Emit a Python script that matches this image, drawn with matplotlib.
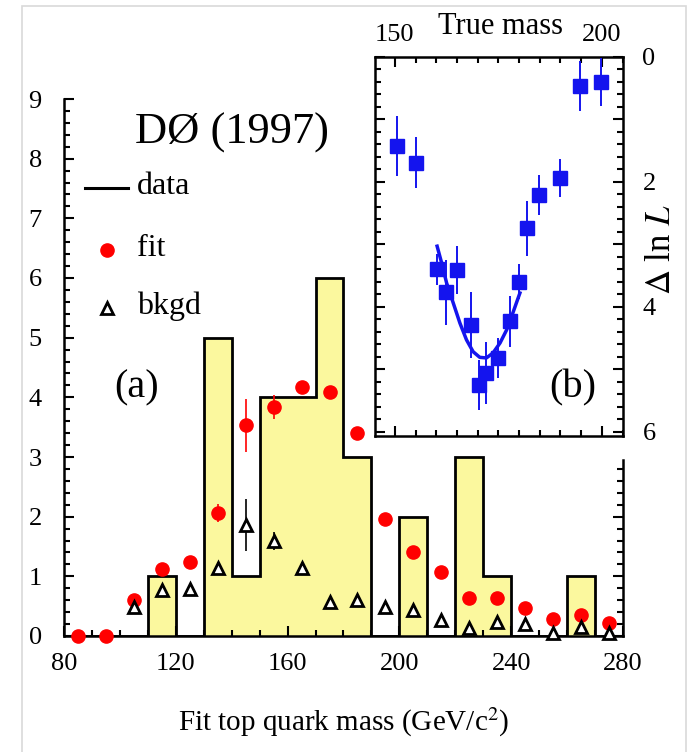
import numpy as np
import matplotlib
matplotlib.use("Agg")
import matplotlib.pyplot as plt
from matplotlib.ticker import MultipleLocator, FixedLocator
from matplotlib.patches import Rectangle
from matplotlib.lines import Line2D

plt.rcParams['font.family'] = ['Liberation Serif', 'DejaVu Serif']
plt.rcParams['mathtext.fontset'] = 'stix'

# histogram of data (bins of 10 GeV)
edges = [80, 90, 100, 110, 120, 130, 140, 150, 160, 170, 180,
         190, 200, 210, 220, 230, 240, 250, 260, 270, 280]
counts = [0, 0, 0, 1, 0, 5, 1, 4, 4, 6, 3, 0, 2, 0, 3, 1, 0, 0, 1, 0]

centers = [85, 95, 105, 115, 125, 135, 145, 155, 165, 175,
           185, 195, 205, 215, 225, 235, 245, 255, 265, 275]
fit = [0.0, 0.0, 0.60, 1.13, 1.24, 2.06, 3.53, 3.84, 4.17, 4.09,
       3.40, 1.96, 1.40, 1.07, 0.64, 0.64, 0.47, 0.28, 0.35, 0.22]
fit_err = [0, 0, 0.05, 0.05, 0.05, 0.15, 0.45, 0.2, 0.05, 0.1,
           0.05, 0.05, 0.05, 0.05, 0.05, 0.05, 0.05, 0.05, 0.05, 0.05]
bkgd = [np.nan, np.nan, 0.49, 0.77, 0.78, 1.14, 1.86, 1.59, 1.14, 0.57,
        0.60, 0.49, 0.44, 0.27, 0.13, 0.24, 0.20, 0.05, 0.15, 0.05]
bkgd_err = [0, 0, 0.05, 0.05, 0.05, 0.1, 0.43, 0.15, 0.1, 0.05,
            0.05, 0.05, 0.05, 0.05, 0.05, 0.05, 0.05, 0.05, 0.05, 0.05]

# inset (b): -Delta ln L vs true mass
true_mass = [150.6, 155.1, 160.2, 162.3, 164.9, 168.5, 170.4, 172.1,
             174.9, 177.8, 180.0, 182.0, 184.9, 190.0, 194.8, 199.9]
dlnl = [1.43, 1.69, 3.40, 3.77, 3.41, 4.29, 5.26, 5.06,
        4.82, 4.23, 3.60, 2.74, 2.21, 1.94, 0.46, 0.40]
dlnl_err = [0.48, 0.41, 0.25, 0.52, 0.39, 0.53, 0.40, 0.50,
            0.32, 0.41, 0.28, 0.44, 0.32, 0.31, 0.40, 0.38]
curve_m = [160.2, 161.3, 162.5, 164.1, 165.7, 167.3, 168.9, 170.5,
           172.1, 173.7, 175.4, 177.0, 178.6, 180.2]
curve_l = [3.03, 3.30, 3.62, 3.94, 4.26, 4.53, 4.72, 4.81,
           4.82, 4.74, 4.58, 4.37, 4.08, 3.78]

W, H = 690, 752
fig = plt.figure(figsize=(6.9, 7.52), dpi=100)
fig.patch.set_facecolor('white')

# faint frame around the picture
fig.patches.append(Rectangle((22 / W, -0.05), (686 - 22) / W, 1.05 - 6 / H,
                             transform=fig.transFigure, fill=False,
                             edgecolor='#d9d9d9', lw=1.2))

yellow = '#FBF89E'
ax = fig.add_axes([64 / W, 1 - 636 / H, (623 - 64) / W, (636 - 99) / H])
ax.set_facecolor('none')
ax.stairs(counts, edges, fill=True, facecolor=yellow, edgecolor='none', zorder=1)
ax.stairs(counts, edges, color='black', lw=2.0, zorder=2)

ax.errorbar(centers, fit, yerr=fit_err, fmt='o', color='red', ms=9.5,
            elinewidth=1.2, capsize=0, zorder=4, clip_on=False)
ax.errorbar(centers, bkgd, yerr=bkgd_err, fmt='^', mfc='white', mec='black',
            mew=2, ms=8, ecolor='black', elinewidth=1.2, capsize=0,
            zorder=5, clip_on=False)

ax.set_xlim(80, 280)
ax.set_ylim(0, 9)
ax.spines['top'].set_visible(False)
ax.spines['right'].set_visible(False)
ax.spines['left'].set_linewidth(1.8)
ax.spines['bottom'].set_linewidth(1.8)
ax.xaxis.set_major_locator(MultipleLocator(40))
ax.xaxis.set_minor_locator(MultipleLocator(10))
ax.yaxis.set_major_locator(MultipleLocator(1))
ax.yaxis.set_minor_locator(MultipleLocator(0.2))
ax.tick_params(which='both', direction='in', top=False, right=False,
               labelsize=19, width=1.5)
ax.tick_params(which='major', length=7)
ax.tick_params(which='minor', length=4)
ax.tick_params(axis='y', pad=16)
ax.tick_params(axis='x', pad=12)
ax.set_xlabel('Fit top quark mass (GeV/c$^2$)', fontsize=21, labelpad=22)

# short right spine below the inset
axr = ax.twinx()
axr.set_ylim(0, 9)
axr.spines['right'].set_bounds(0, 2.95)
axr.spines['right'].set_linewidth(1.8)
for s in ['top', 'left', 'bottom']:
    axr.spines[s].set_visible(False)
axr.yaxis.set_major_locator(FixedLocator([0, 1, 2]))
axr.yaxis.set_minor_locator(FixedLocator(np.arange(0, 3.0, 0.2)))
axr.tick_params(which='both', direction='in', labelright=False, width=1.5)
axr.tick_params(which='major', length=7)
axr.tick_params(which='minor', length=4)

# texts and legend
fig.text(135 / W, 1 - 133 / H, 'DØ (1997)', fontsize=32, va='center', ha='left')
fig.add_artist(Line2D([85 / W, 128 / W], [1 - 188 / H, 1 - 188 / H],
                      color='black', lw=2.2))
fig.add_artist(Line2D([107 / W], [1 - 250 / H], marker='o', color='red', ms=9.5))
fig.add_artist(Line2D([107 / W], [1 - 308 / H], marker='^', mfc='white',
                      mec='black', mew=2, ms=8))
fig.text(137 / W, 1 - 186 / H, 'data', fontsize=23, va='center', ha='left')
fig.text(137 / W, 1 - 248 / H, 'fit', fontsize=23, va='center', ha='left')
fig.text(137 / W, 1 - 306 / H, 'bkgd', fontsize=23, va='center', ha='left')
fig.text(137 / W, 1 - 388 / H, '(a)', fontsize=29, va='center', ha='center')

# inset (b)
axin = fig.add_axes([375 / W, 1 - 436 / H, (623 - 375) / W, (436 - 57) / H])
axin.set_facecolor('white')
axin.errorbar(true_mass, dlnl, yerr=dlnl_err, fmt='s', color='#1414ee',
              ms=9.5, elinewidth=1.4, capsize=0, zorder=3)
axin.plot(curve_m, curve_l, color='#1414ee', lw=2.5, zorder=2)
axin.set_xlim(145.2, 205.1)
axin.set_ylim(6.07, 0)
for s in axin.spines.values():
    s.set_linewidth(1.8)
axin.xaxis.set_major_locator(FixedLocator([150, 200]))
axin.xaxis.set_minor_locator(MultipleLocator(5))
axin.yaxis.set_major_locator(MultipleLocator(1))
axin.yaxis.set_minor_locator(MultipleLocator(0.2))
axin.set_yticklabels(['', '0', '', '2', '', '4', '', '6', ''][:len(axin.get_yticks())])
axin.tick_params(which='both', direction='in', top=True, bottom=True,
                 left=True, right=True, labeltop=True, labelbottom=False,
                 labelleft=False, labelright=True, labelsize=19, width=1.5)
axin.tick_params(which='major', length=7)
axin.tick_params(which='minor', length=4)
axin.tick_params(axis='y', pad=14)
axin.tick_params(axis='x', pad=8)
fig.text(500 / W, 1 - 27 / H, 'True mass', fontsize=22, va='center', ha='center')
fig.text(662 / W, 1 - 250 / H, r'$\Delta$ ln $L$', fontsize=25, rotation=90,
         va='center', ha='center')
fig.text(573 / W, 1 - 388 / H, '(b)', fontsize=29, va='center', ha='center')

fig.savefig('out.png', dpi=100)
